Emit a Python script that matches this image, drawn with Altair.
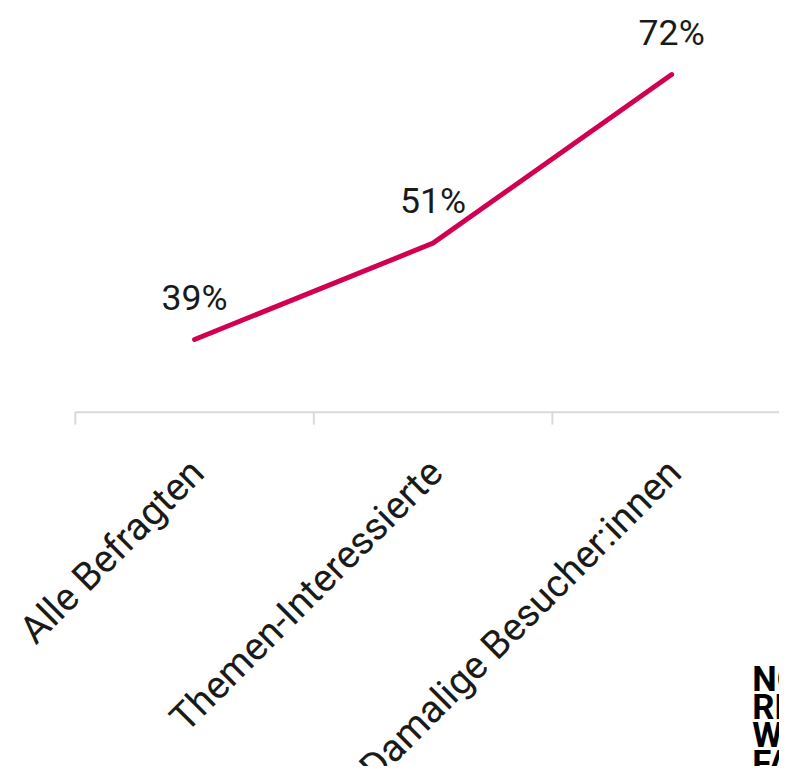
import json
import altair as alt
import pandas as pd

categories = ["Alle Befragten", "Themen-Interessierte", "Damalige Besucher:innen"]
values = [39, 51, 72]
value_labels = ["39%", "51%", "72%"]
logo_text = "NORD\nRHEIN\nWEST\nFALEN"

positions = list(range(len(categories)))
df = pd.DataFrame({"idx": positions, "cat": categories, "val": values, "label": value_labels})
# category boundaries (band edges) for the tick marks
df_edges = pd.DataFrame({"edge": [p - 0.5 for p in positions]})

xscale = alt.Scale(domain=[-0.5, 2.45], nice=False, zero=False)
yscale = alt.Scale(domain=[30, 79.8], zero=False)

label_expr = json.dumps(categories) + "[datum.value]"

x_axis = alt.Axis(
    title=None, values=positions, labelExpr=label_expr,
    labelAngle=-45, labelAlign="right", labelBaseline="middle",
    labelFont="Roboto", labelFontSize=39, labelColor="#1a1a1a",
    labelPadding=55, labelOffset=3,
    labelLimit=0, labelOverlap=False, labelFlush=False,
    ticks=False, domainColor="#d9d9d9", domainWidth=2, grid=False,
)

base = alt.Chart(df)

line = base.mark_line(color="#D10050", strokeWidth=5, strokeCap="round").encode(
    x=alt.X("idx:Q", scale=xscale, axis=x_axis),
    y=alt.Y("val:Q", scale=yscale, axis=None),
)

labels = base.mark_text(
    font="Roboto", fontSize=36, color="#1a1a1a", baseline="alphabetic", dy=-30
).encode(
    x=alt.X("idx:Q", scale=xscale),
    y=alt.Y("val:Q", scale=yscale),
    text="label:N",
)

ticks = alt.Chart(df_edges).mark_rule(color="#d9d9d9", strokeWidth=2).encode(
    x=alt.X("edge:Q", scale=xscale),
    y=alt.value(404),
    y2=alt.value(417),
)

logo = alt.Chart(pd.DataFrame({"t": [logo_text]})).mark_text(
    font="Liberation Sans Narrow, Roboto, sans-serif", fontWeight="bold",
    fontSize=35, color="#000000",
    align="left", baseline="alphabetic", lineBreak="\n", lineHeight=28.5,
).encode(text="t:N", x=alt.value(684), y=alt.value(686))

chart = alt.layer(ticks, line, labels, logo).properties(
    width=711, height=404,
    autosize=alt.AutoSizeParams(type="none"),
    padding={"left": 68, "top": 0, "right": 0, "bottom": 354},
    background="white",
).configure_view(stroke=None)

chart.save("out.html", embed_options={"renderer": "svg", "actions": False})
